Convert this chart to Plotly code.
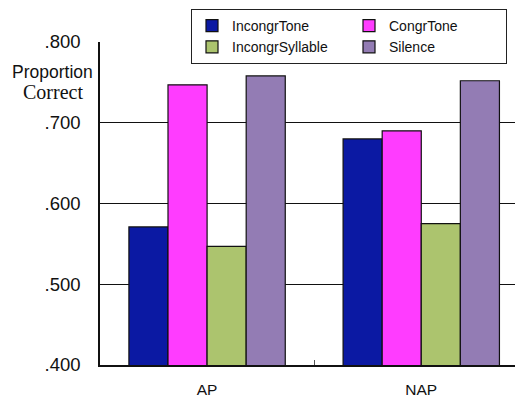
import plotly.graph_objects as go

categories = ["AP", "NAP"]
series_names = ["IncongrTone", "CongrTone", "IncongrSyllable", "Silence"]
incongr_tone = [0.571, 0.680]
congr_tone = [0.747, 0.690]
incongr_syllable = [0.547, 0.575]
silence = [0.758, 0.752]
y_tick_vals = [0.4, 0.5, 0.6, 0.7, 0.8]
y_tick_text = [".400", ".500", ".600", ".700", ".800"]

colors = ["#0b19a3", "#ff3cff", "#acc46e", "#937cb4"]
values = [incongr_tone, congr_tone, incongr_syllable, silence]

fig = go.Figure()
for name, vals, col in zip(series_names, values, colors):
    fig.add_trace(go.Bar(
        x=categories, y=vals, name=name,
        marker=dict(color=col, line=dict(color="#111111", width=1.2)),
    ))

# page body has an 8px margin, so figure is sized 515x394
fig.update_layout(
    width=515, height=394,
    margin=dict(l=92, r=0, t=34, b=37, autoexpand=False),
    paper_bgcolor="white", plot_bgcolor="white",
    barmode="group", bargap=0.27, bargroupgap=0,
    font=dict(family="Liberation Sans, Arial, sans-serif", color="#111111"),
    showlegend=True,
    legend=dict(
        orientation="h", x=183/515, y=1 - 1/394, xref="container", yref="container",
        xanchor="left", yanchor="top",
        bgcolor="white", bordercolor="#222222", borderwidth=1,
        entrywidth=112, entrywidthmode="pixels",
        font=dict(size=14, family="Liberation Sans, Arial, sans-serif"),
        itemwidth=30, tracegroupgap=0,
    ),
    xaxis=dict(
        range=[-0.5, 1.475], showline=True, linecolor="#111111", linewidth=1.5,
        ticks="inside", tickson="boundaries", ticklen=5, tickcolor="#555555",
        tickfont=dict(size=15.5), ticklabelstandoff=10, showgrid=False,
    ),
    yaxis=dict(
        range=[0.4, 0.8], tickvals=y_tick_vals, ticktext=y_tick_text,
        showline=True, linecolor="#111111", linewidth=1.5,
        showgrid=True, gridcolor="#111111", gridwidth=1,
        tickfont=dict(size=18.5), ticks="", ticklabelstandoff=14,
        zeroline=False,
    ),
)

fig.add_annotation(text="Proportion", xref="paper", yref="paper", x=-0.012, y=0.907,
                   xanchor="right", yanchor="middle", showarrow=False,
                   font=dict(size=17.5, family="Liberation Sans, Arial, sans-serif"))
fig.add_annotation(text="Correct", xref="paper", yref="paper", x=-0.035, y=0.845,
                   xanchor="right", yanchor="middle", showarrow=False,
                   font=dict(size=20, family="Liberation Serif, serif"))

fig.write_html("out.html")
